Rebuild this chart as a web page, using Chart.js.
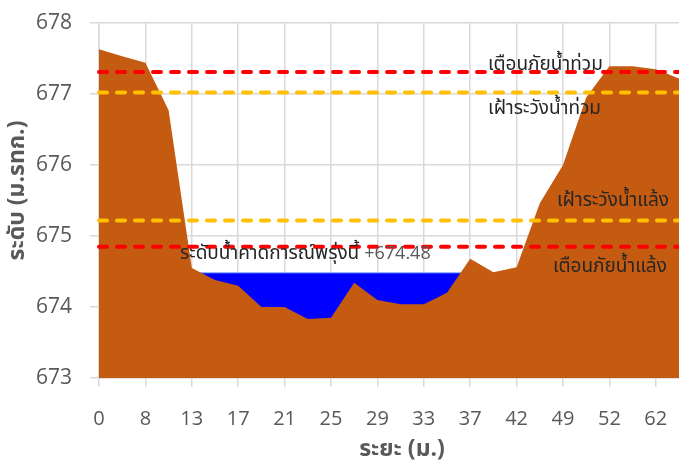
<!DOCTYPE html>
<html>
<head>
<meta charset="utf-8">
<script src="https://cdn.jsdelivr.net/npm/chart.js@4.4.1/dist/chart.umd.min.js"></script>
<style>
  html, body { margin: 0; padding: 0; background: #fff; }
  #wrap { width: 679px; height: 462px; }
</style>
</head>
<body>
<div id="wrap"><canvas id="chart-section" width="679" height="462"></canvas></div>
<script>
// distance (m) along the section; only every other one is labelled
const distances = ["0", "4", "8", "10", "13", "15", "17", "19", "21", "23", "25", "27", "29",
  "31", "33", "35", "37", "40", "42", "45", "49", "50", "52", "57", "62", "64"];
// ground level (m MSL)
const groundLevel = [677.63, 677.53, 677.44, 676.77, 674.55, 674.38, 674.30, 674.00, 674.00,
  673.83, 673.85, 674.34, 674.10, 674.04, 674.04, 674.20, 674.68, 674.49, 674.56, 675.46,
  676.00, 676.95, 677.39, 677.39, 677.35, 677.22];
// forecast water level for tomorrow, across the channel
const forecastLevel = 674.48;
const waterFrom = 4, waterTo = 16;
// thresholds
const floodWarning = 677.31;
const floodWatch = 677.02;
const droughtWatch = 675.22;
const droughtWarning = 674.85;
const yTicks = [673, 674, 675, 676, 677, 678];

const waterLine = distances.map((d, i) => (i >= waterFrom && i <= waterTo ? forecastLevel : null));
const first = distances[0], last = distances[distances.length - 1];
const flat = (v) => [{ x: first, y: v }, { x: last, y: v }];

const RED = "#ff0000";
const AMBER = "#ffc000";
const thaiFont = "'Leelawadee UI', Tahoma, 'Noto Sans Thai', 'DejaVu Sans', sans-serif";
const numFont = "'Open Sans', 'Noto Sans', sans-serif";

const threshold = (label, v, color) => ({
  label,
  data: flat(v),
  borderColor: color,
  borderWidth: 4,
  borderDash: [8, 10],
  borderCapStyle: "round",
  pointRadius: 0,
  fill: false,
  order: 0,
});

const notes = {
  id: "notes",
  afterDatasetsDraw(chart) {
    const { ctx, scales: { x, y }, chartArea } = chart;
    ctx.save();
    ctx.textBaseline = "alphabetic";
    ctx.textAlign = "left";
    ctx.font = "19px " + thaiFont;
    ctx.fillStyle = "#262626";
    const put = (text, idx, v) => ctx.fillText(text, x.getPixelForValue(idx), y.getPixelForValue(v));
    put("เตือนภัยน้ำท่วม", 16.77, 677.34);
    put("เฝ้าระวังน้ำท่วม", 16.77, 676.72);
    put("เฝ้าระวังน้ำแล้ง", 19.74, 675.42);
    put("เตือนภัยน้ำแล้ง", 19.57, 674.50);
    const label = "ระดับน้ำคาดการณ์พรุ่งนี้ ";
    put(label, 3.49, 674.67);
    const w = ctx.measureText(label).width;
    ctx.fillStyle = "#595959";
    ctx.font = "18px " + numFont;
    ctx.fillText("+" + forecastLevel.toFixed(2), x.getPixelForValue(3.49) + w, y.getPixelForValue(674.67));
    // axis titles
    ctx.font = "bold 23px " + thaiFont;
    ctx.fillStyle = "#595959";
    ctx.textAlign = "center";
    ctx.textBaseline = "middle";
    ctx.fillText("ระยะ (ม.)", (chartArea.left + chartArea.right) / 2 + 13, chart.height - 11);
    ctx.translate(19, (chartArea.top + chartArea.bottom) / 2 - 10);
    ctx.rotate(-Math.PI / 2);
    ctx.fillText("ระดับ (ม.รทก.)", 0, 0);
    ctx.restore();
  },
};

new Chart(document.getElementById("chart-section"), {
  type: "line",
  data: {
    labels: distances,
    datasets: [
      threshold("เตือนภัยน้ำท่วม", floodWarning, RED),
      threshold("เฝ้าระวังน้ำท่วม", floodWatch, AMBER),
      threshold("เฝ้าระวังน้ำแล้ง", droughtWatch, AMBER),
      threshold("เตือนภัยน้ำแล้ง", droughtWarning, RED),
      {
        label: "ระดับตลิ่ง",
        data: groundLevel,
        borderWidth: 0,
        borderColor: "#c55a11",
        backgroundColor: "#c55a11",
        pointRadius: 0,
        fill: "start",
        order: 1,
      },
      {
        label: "ระดับน้ำคาดการณ์",
        data: waterLine,
        borderWidth: 1,
        borderColor: "#5b7cff",
        backgroundColor: "#0000ff",
        pointRadius: 0,
        fill: "start",
        order: 2,
      },
    ],
  },
  options: {
    responsive: false,
    animation: false,
    layout: { padding: { top: 23, right: 0, left: 0, bottom: 0 } },
    plugins: { legend: { display: false }, tooltip: { enabled: false } },
    scales: {
      x: {
        grid: {
          color: (c) => (c.index % 2 === 0 ? "#d9d9d9" : "rgba(0,0,0,0)"),
          lineWidth: 1.5,
          tickLength: 9,
        },
        border: { color: "#d9d9d9", width: 1.5 },
        ticks: {
          autoSkip: false,
          maxRotation: 0,
          padding: 20,
          color: "#595959",
          font: { family: numFont, size: 20 },
          callback: (v, i) => (i % 2 === 0 ? distances[i] : ""),
        },
        afterFit: (s) => { s.height = 84; s.paddingLeft = 0; s.paddingRight = 0; },
      },
      y: {
        min: yTicks[0],
        max: yTicks[yTicks.length - 1],
        afterBuildTicks: (s) => { s.ticks = yTicks.map((v) => ({ value: v })); },
        grid: { color: "#d9d9d9", lineWidth: 1.5, tickLength: 9 },
        border: { color: "#d9d9d9", width: 1.5 },
        ticks: {
          padding: 18,
          color: "#595959",
          font: { family: numFont, size: 21 },
        },
        afterFit: (s) => { s.width = 99; s.paddingTop = 0; s.paddingBottom = 0; },
      },
    },
  },
  plugins: [notes],
});
</script>
</body>
</html>
